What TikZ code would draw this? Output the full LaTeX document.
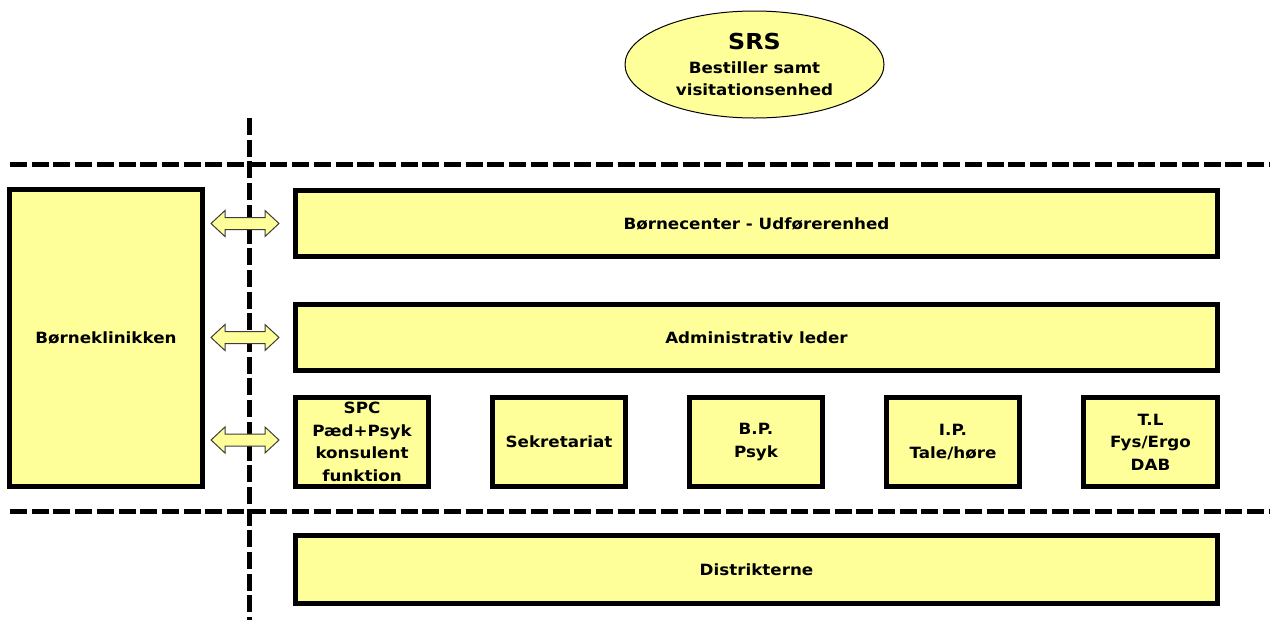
\documentclass[tikz,border=0pt]{standalone}
\usepackage{fontspec}
\setmainfont[FakeStretch=1.08]{DejaVu Sans}
\usetikzlibrary{shapes.geometric,calc}
\definecolor{boxyellow}{RGB}{255,255,153}
\definecolor{arrowgray}{RGB}{60,60,60}
\tikzset{
  unitbox/.style={draw=black, line width=5pt, fill=boxyellow, rectangle, inner sep=0pt,
    align=center, font=\bfseries\fontsize{15.5}{22.5}\selectfont},
  sepline/.style={line width=5pt, dash pattern=on 17pt off 4.7pt},
  blockarrow/.style={draw=arrowgray, line width=1pt, fill=boxyellow, line join=miter},
  dblarrow/.pic={\path[blockarrow] (-34,0) -- (-20,-13) -- (-20,-6) -- (20,-6) -- (20,-13) -- (34,0)
     -- (20,13) -- (20,6) -- (-20,6) -- (-20,13) -- cycle;}
}
\begin{document}
\begin{tikzpicture}[x=1pt,y=-1pt]
\useasboundingbox[fill=white] (0,0) rectangle (1270,619);

% separator lines
\coordinate (h1s) at (10,164.5);
\coordinate (h1e) at (1272,164.5);
\coordinate (h2s) at (10,511.5);
\coordinate (h2e) at (1272,511.5);
\coordinate (vs) at (249,118);
\coordinate (ve) at (249,622);
\draw[sepline] (h1s) -- (h1e);
\draw[sepline] (h2s) -- (h2e);
\draw[sepline] (vs) -- (ve);

% SRS ellipse
\node[ellipse, draw=black, line width=1pt, fill=boxyellow, minimum width=259pt, minimum height=107pt,
  inner sep=0pt, align=center, font=\bfseries\fontsize{15.5}{22}\selectfont] (srs) at (754.5,64.5)
  {{\fontsize{22}{22}\selectfont SRS}\\[2pt]Bestiller samt\\visitationsenhed};

% boxes
\node[unitbox, minimum width=193pt, minimum height=297pt] (klinik) at (106,338) {Børneklinikken};
\node[unitbox, minimum width=922pt, minimum height=66pt] (center) at (756.5,223.5) {Børnecenter - Udførerenhed};
\node[unitbox, minimum width=922pt, minimum height=66pt] (admin) at (756.5,337.5) {Administrativ leder};
\node[unitbox, minimum width=133pt, minimum height=89pt] (spc) at (362,442) {SPC\\Pæd+Psyk\\konsulent\\funktion};
\node[unitbox, minimum width=133pt, minimum height=89pt] (sekr) at (559,442) {Sekretariat};
\node[unitbox, minimum width=133pt, minimum height=89pt] (bp) at (756,442) {B.P.\\Psyk};
\node[unitbox, minimum width=133pt, minimum height=89pt] (ip) at (953,442) {I.P.\\Tale/høre};
\node[unitbox, minimum width=134pt, minimum height=89pt] (tl) at (1150.5,442) {T.L\\Fys/Ergo\\DAB};
\node[unitbox, minimum width=922pt, minimum height=68pt] (distr) at (756.5,569.5) {Distrikterne};

% block double arrows between Børneklinikken and the units
\pic[xshift=-4pt] at ($(klinik.east |- center)!0.5!(center.west)$) {dblarrow};
\pic[xshift=-4pt] at ($(klinik.east |- admin)!0.5!(admin.west)$) {dblarrow};
\pic[xshift=-4pt, yshift=2pt] at ($(klinik.east |- spc)!0.5!(spc.west)$) {dblarrow};
\end{tikzpicture}
\end{document}
